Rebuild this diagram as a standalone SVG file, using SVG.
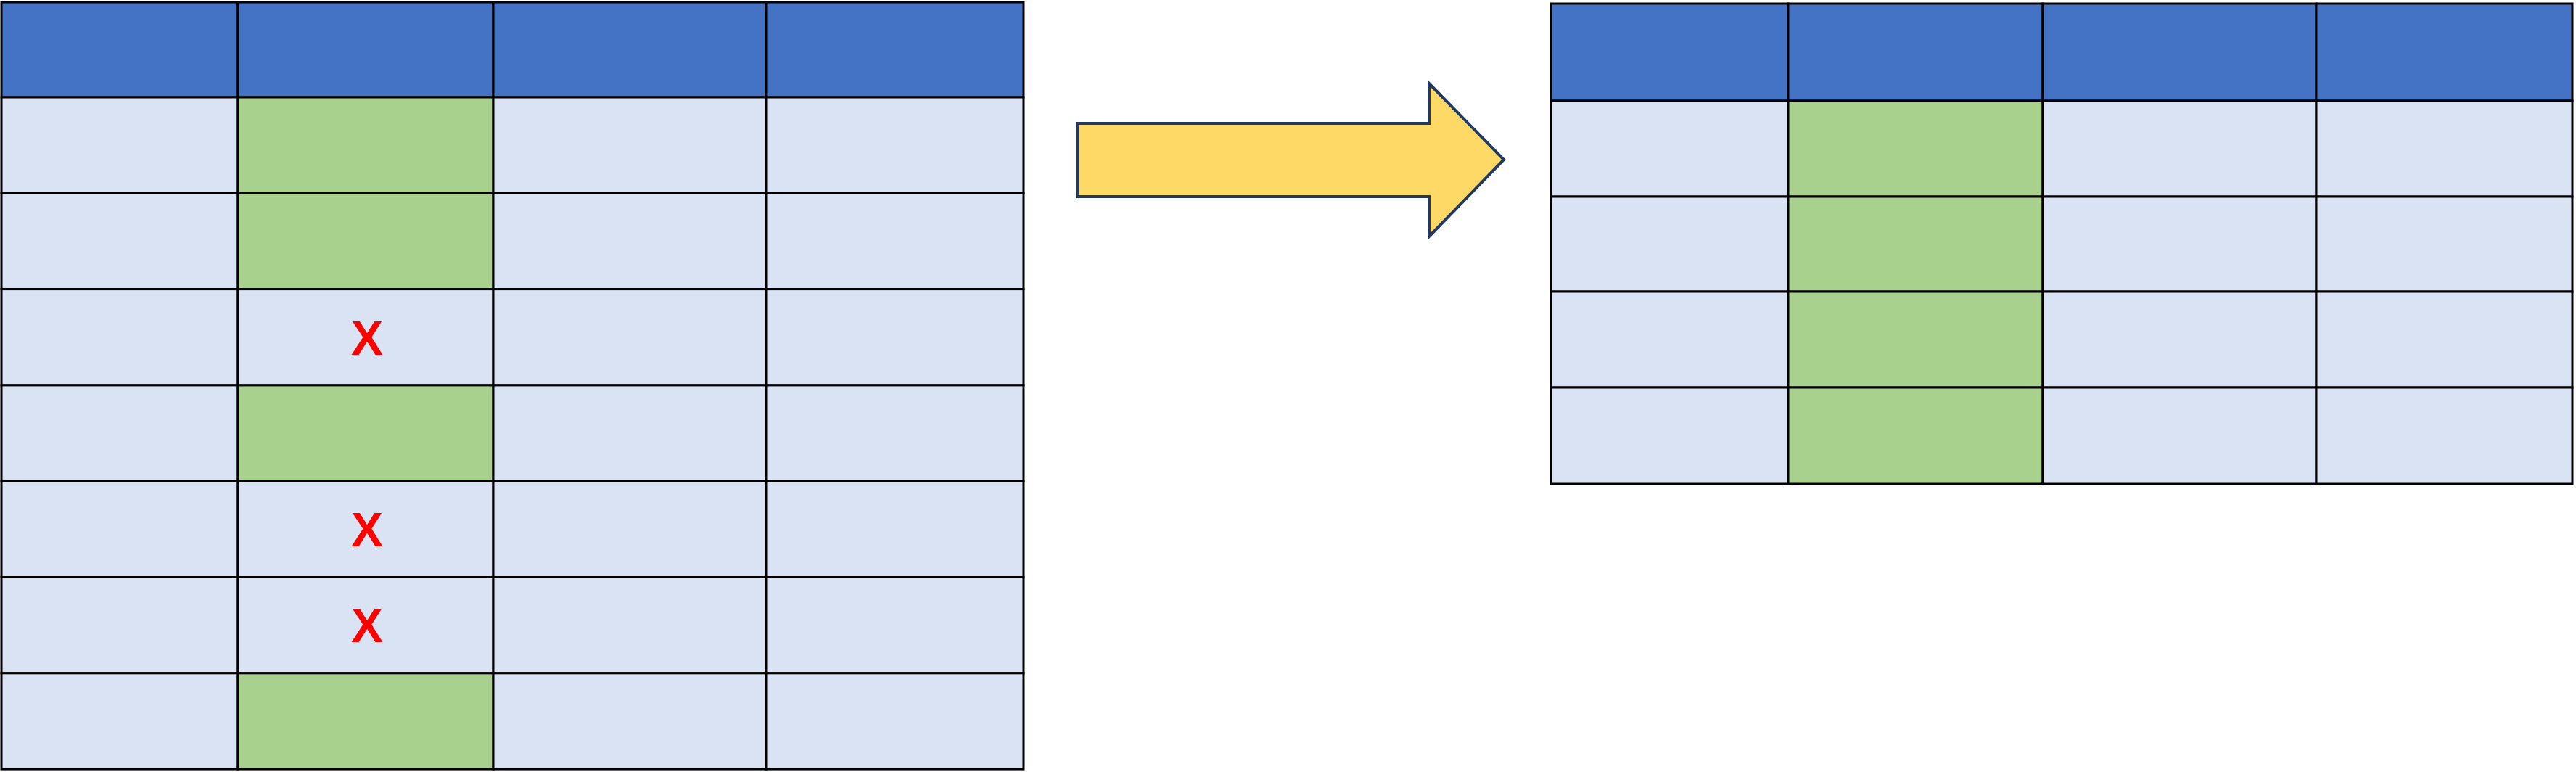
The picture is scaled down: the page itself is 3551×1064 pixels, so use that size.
<svg xmlns="http://www.w3.org/2000/svg" width="3551" height="1064" viewBox="0 0 3551 1064">
<style>
.h{fill:#4472C4;stroke:#000;stroke-width:3}
.c{fill:#DAE3F3;stroke:#000;stroke-width:3}
.g{fill:#A9D18E;stroke:#000;stroke-width:3}
.x{fill:#FF0000;font-family:"Liberation Sans",Arial,sans-serif;font-weight:bold;font-size:66px;text-anchor:middle}
</style>
<g id="left-table">
<rect class="h" x="2" y="3" width="326" height="131"/><rect class="h" x="328" y="3" width="352" height="131"/><rect class="h" x="680" y="3" width="376" height="131"/><rect class="h" x="1056" y="3" width="355" height="131"/>
<g id="l-rows">
<rect class="c" x="2" y="134" width="326" height="132.3"/><rect class="g" x="328" y="134" width="352" height="132.3"/><rect class="c" x="680" y="134" width="376" height="132.3"/><rect class="c" x="1056" y="134" width="355" height="132.3"/>
<rect class="c" x="2" y="266.3" width="326" height="132.3"/><rect class="g" x="328" y="266.3" width="352" height="132.3"/><rect class="c" x="680" y="266.3" width="376" height="132.3"/><rect class="c" x="1056" y="266.3" width="355" height="132.3"/>
<rect class="c" x="2" y="398.6" width="326" height="132.3"/><rect class="c" x="328" y="398.6" width="352" height="132.3"/><rect class="c" x="680" y="398.6" width="376" height="132.3"/><rect class="c" x="1056" y="398.6" width="355" height="132.3"/>
<rect class="c" x="2" y="530.9" width="326" height="132.3"/><rect class="g" x="328" y="530.9" width="352" height="132.3"/><rect class="c" x="680" y="530.9" width="376" height="132.3"/><rect class="c" x="1056" y="530.9" width="355" height="132.3"/>
<rect class="c" x="2" y="663.2" width="326" height="132.3"/><rect class="c" x="328" y="663.2" width="352" height="132.3"/><rect class="c" x="680" y="663.2" width="376" height="132.3"/><rect class="c" x="1056" y="663.2" width="355" height="132.3"/>
<rect class="c" x="2" y="795.5" width="326" height="132.3"/><rect class="c" x="328" y="795.5" width="352" height="132.3"/><rect class="c" x="680" y="795.5" width="376" height="132.3"/><rect class="c" x="1056" y="795.5" width="355" height="132.3"/>
<rect class="c" x="2" y="927.8" width="326" height="132.3"/><rect class="g" x="328" y="927.8" width="352" height="132.3"/><rect class="c" x="680" y="927.8" width="376" height="132.3"/><rect class="c" x="1056" y="927.8" width="355" height="132.3"/>
</g>
<text class="x" x="506" y="489">X</text>
<text class="x" x="506" y="753">X</text>
<text class="x" x="506" y="885">X</text>
</g>
<g id="arrow">
<polygon points="1485,170 1970,170 1970,115 2073,220 1970,326 1970,271 1485,271" fill="#FFD966" stroke="#203864" stroke-width="4"/>
</g>
<g id="right-table">
<rect class="h" x="2138" y="5" width="327" height="134"/><rect class="h" x="2465" y="5" width="351" height="134"/><rect class="h" x="2816" y="5" width="377" height="134"/><rect class="h" x="3193" y="5" width="353" height="134"/>
<rect class="c" x="2138" y="139" width="327" height="132"/><rect class="g" x="2465" y="139" width="351" height="132"/><rect class="c" x="2816" y="139" width="377" height="132"/><rect class="c" x="3193" y="139" width="353" height="132"/>
<rect class="c" x="2138" y="271" width="327" height="131"/><rect class="g" x="2465" y="271" width="351" height="131"/><rect class="c" x="2816" y="271" width="377" height="131"/><rect class="c" x="3193" y="271" width="353" height="131"/>
<rect class="c" x="2138" y="402" width="327" height="132"/><rect class="g" x="2465" y="402" width="351" height="132"/><rect class="c" x="2816" y="402" width="377" height="132"/><rect class="c" x="3193" y="402" width="353" height="132"/>
<rect class="c" x="2138" y="534" width="327" height="133"/><rect class="g" x="2465" y="534" width="351" height="133"/><rect class="c" x="2816" y="534" width="377" height="133"/><rect class="c" x="3193" y="534" width="353" height="133"/>
</g>
<g id="connectors"/>
</svg>
